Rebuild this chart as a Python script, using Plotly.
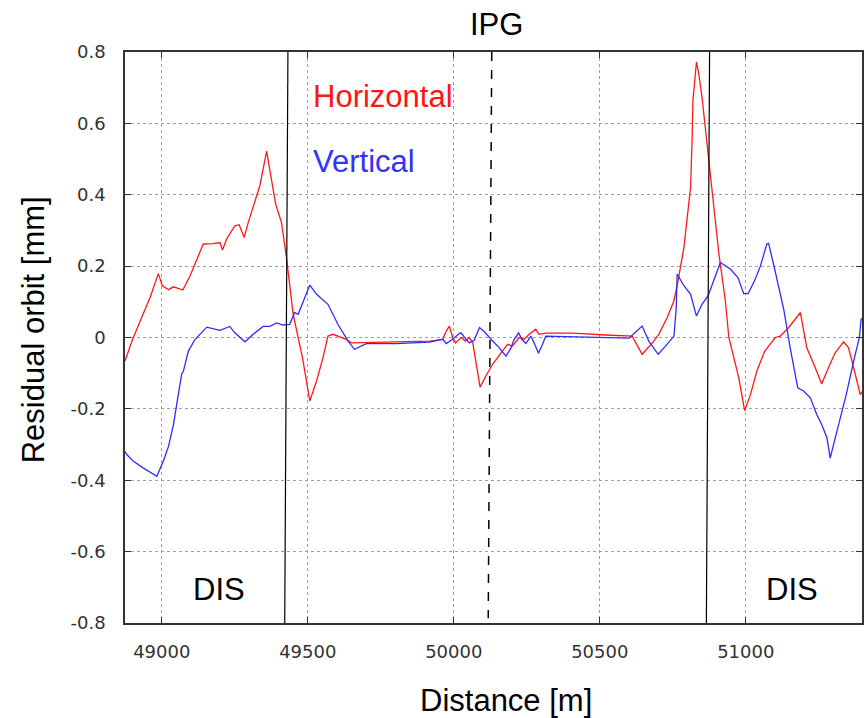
import plotly.graph_objects as go

# Horizontal residual orbit (red)
h_x = [48874, 48898, 48926, 48960, 48988, 49002, 49023, 49040, 49072, 49097,
       49142, 49176, 49199, 49208, 49222, 49250, 49265, 49282, 49296, 49313,
       49336, 49359, 49376, 49390, 49410, 49427, 49450, 49482, 49507, 49530,
       49552, 49569, 49586, 49632, 49649, 49803, 49917, 49962, 49974, 49985,
       49996, 50006, 50025, 50040, 50053, 50065, 50076, 50090, 50110, 50133,
       50162, 50184, 50201, 50224, 50241, 50258, 50281, 50292, 50315, 50406,
       50520, 50611, 50645, 50680, 50702, 50731, 50754, 50768, 50788, 50799,
       50811, 50816, 50819, 50831, 50839, 50850, 50860, 50868, 50879, 50890,
       50908, 50930, 50942, 50976, 50996, 51016, 51038, 51065, 51101, 51118,
       51147, 51187, 51209, 51238, 51260, 51283, 51306, 51335, 51352, 51375,
       51392, 51400]
h_y = [-0.066, -0.010, 0.046, 0.112, 0.179, 0.145, 0.134, 0.142, 0.133, 0.173,
       0.262, 0.263, 0.266, 0.245, 0.276, 0.313, 0.316, 0.280, 0.322, 0.365,
       0.426, 0.522, 0.440, 0.374, 0.322, 0.224, 0.065, -0.057, -0.178, -0.122,
       -0.057, 0.004, 0.009, -0.005, -0.015, -0.013, -0.010, -0.005, 0.018, 0.032,
       0.000, -0.015, 0.000, -0.010, 0.000, -0.015, -0.066, -0.139, -0.108, -0.075,
       -0.043, -0.019, -0.024, 0.000, -0.005, 0.009, 0.023, 0.009, 0.012, 0.012,
       0.007, 0.004, -0.047, -0.015, 0.009, 0.056, 0.103, 0.159, 0.252, 0.327,
       0.421, 0.552, 0.664, 0.772, 0.739, 0.674, 0.599, 0.533, 0.449, 0.355,
       0.234, 0.103, 0.000, -0.113, -0.205, -0.160, -0.094, -0.038, 0.000, 0.004,
       0.028, 0.070, -0.029, -0.085, -0.130, -0.085, -0.043, -0.012, -0.029, -0.103,
       -0.160, -0.150]

# Vertical residual orbit (blue)
v_x = [48874, 48880, 48903, 48937, 48983, 49005, 49023, 49040, 49051, 49068,
       49074, 49091, 49114, 49154, 49199, 49233, 49250, 49285, 49313, 49347,
       49370, 49393, 49415, 49438, 49455, 49467, 49507, 49530, 49569, 49603,
       49638, 49660, 49700, 49803, 49917, 49962, 49974, 49996, 50019, 50025,
       50042, 50053, 50070, 50088, 50105, 50127, 50156, 50179, 50196, 50207,
       50222, 50233, 50247, 50264, 50275, 50290, 50304, 50315, 50600, 50645,
       50668, 50700, 50725, 50754, 50762, 50765, 50788, 50811, 50831, 50850,
       50871, 50890, 50913, 50947, 50973, 50993, 51008, 51030, 51050, 51072,
       51078, 51095, 51110, 51130, 51152, 51178, 51198, 51221, 51243, 51260,
       51278, 51289, 51315, 51344, 51372, 51389, 51395, 51400]
v_y = [-0.319, -0.328, -0.347, -0.366, -0.389, -0.347, -0.305, -0.244, -0.188, -0.103,
       -0.094, -0.038, -0.005, 0.029, 0.020, 0.031, 0.013, -0.012, 0.009, 0.031,
       0.031, 0.041, 0.035, 0.037, 0.070, 0.065, 0.147, 0.121, 0.093, 0.037,
       -0.010, -0.033, -0.017, -0.017, -0.013, -0.005, -0.017, -0.005, 0.011, 0.013,
       -0.005, -0.015, -0.008, 0.028, 0.016, -0.005, -0.029, -0.052, -0.029, -0.005,
       0.013, -0.005, -0.017, 0.004, -0.015, -0.044, -0.019, 0.004, -0.002, 0.032,
       -0.010, -0.047, -0.024, 0.004, 0.084, 0.178, 0.145, 0.121, 0.060, 0.093,
       0.117, 0.159, 0.210, 0.192, 0.168, 0.123, 0.123, 0.159, 0.200, 0.262,
       0.264, 0.206, 0.154, 0.079, -0.029, -0.141, -0.150, -0.169, -0.216, -0.244,
       -0.281, -0.338, -0.253, -0.160, -0.057, 0.000, 0.051, 0.055]

# Marker lines: [x_top, x_bottom, y_top, y_bottom]
dis_left = [49432, 49421, 0.8, -0.8]
dis_right = [50876, 50865, 0.8, -0.8]
ipg_line = [50130, 50118, 0.8, -0.787]

x_ticks = [49000, 49500, 50000, 50500, 51000]
y_ticks = [-0.8, -0.6, -0.4, -0.2, 0, 0.2, 0.4, 0.6, 0.8]
y_tick_text = ["-0.8", "-0.6", "-0.4", "-0.2", "0", "0.2", "0.4", "0.6", "0.8"]

RED = "rgb(255,25,25)"
BLUE = "rgb(45,45,255)"

fig = go.Figure()
fig.add_trace(go.Scatter(x=h_x, y=h_y, mode="lines", line=dict(color=RED, width=1.3),
                         name="Horizontal", showlegend=False))
fig.add_trace(go.Scatter(x=v_x, y=v_y, mode="lines", line=dict(color=BLUE, width=1.3),
                         name="Vertical", showlegend=False))

for ln, dash in [(dis_left, "solid"), (dis_right, "solid"), (ipg_line, "dash")]:
    fig.add_shape(type="line", xref="x", yref="y", x0=ln[0], x1=ln[1], y0=ln[2], y1=ln[3],
                  line=dict(color="black", width=1.5 if dash == "dash" else 1.2, dash=dash))

tfont = "Liberation Sans, Arial, sans-serif"
fig.add_annotation(x=49512, y=0.676, xref="x", yref="y", text="Horizontal", showarrow=False,
                   xanchor="left", yanchor="middle", font=dict(family=tfont, size=31, color="rgb(255,20,20)"))
fig.add_annotation(x=49512, y=0.493, xref="x", yref="y", text="Vertical", showarrow=False,
                   xanchor="left", yanchor="middle", font=dict(family=tfont, size=31, color="rgb(50,50,255)"))
fig.add_annotation(x=49196, y=-0.706, xref="x", yref="y", text="DIS", showarrow=False,
                   xanchor="center", yanchor="middle", font=dict(family=tfont, size=31, color="black"))
fig.add_annotation(x=51157, y=-0.706, xref="x", yref="y", text="DIS", showarrow=False,
                   xanchor="center", yanchor="middle", font=dict(family=tfont, size=31, color="black"))
fig.add_annotation(x=50146, y=1.049, xref="x", yref="paper", text="IPG", showarrow=False,
                   xanchor="center", yanchor="middle", font=dict(family=tfont, size=31, color="black"))
fig.add_annotation(x=0.517, y=-0.1366, xref="paper", yref="paper", text="Distance [m]", showarrow=False,
                   xanchor="center", yanchor="middle", font=dict(family=tfont, size=31, color="black"))
fig.add_annotation(x=-0.1245, y=0.513, xref="paper", yref="paper", text="Residual orbit [mm]",
                   showarrow=False, textangle=-90,
                   xanchor="center", yanchor="middle", font=dict(family=tfont, size=31, color="black"))

axis_common = dict(
    showline=True, linecolor="#333333", linewidth=1.5, mirror="ticks",
    ticks="inside", ticklen=6, tickwidth=1.2, tickcolor="#333333",
    showgrid=True, gridcolor="#a0a0a0", griddash="dot", gridwidth=1,
    zeroline=False,
    tickfont=dict(family="DejaVu Sans, sans-serif", size=18, color="#333333"),
)

fig.update_xaxes(range=[48874, 51398], tickvals=x_ticks, ticktext=[str(v) for v in x_ticks],
                 ticklabelstandoff=12, **axis_common)
fig.update_yaxes(range=[-0.8, 0.8], tickvals=y_ticks, ticktext=y_tick_text,
                 ticklabelstandoff=14, **axis_common)

fig.update_layout(
    width=866, height=718,
    margin=dict(l=125, r=2, t=52, b=95),
    paper_bgcolor="white", plot_bgcolor="white",
    showlegend=False,
)

fig.write_html("out.html")
